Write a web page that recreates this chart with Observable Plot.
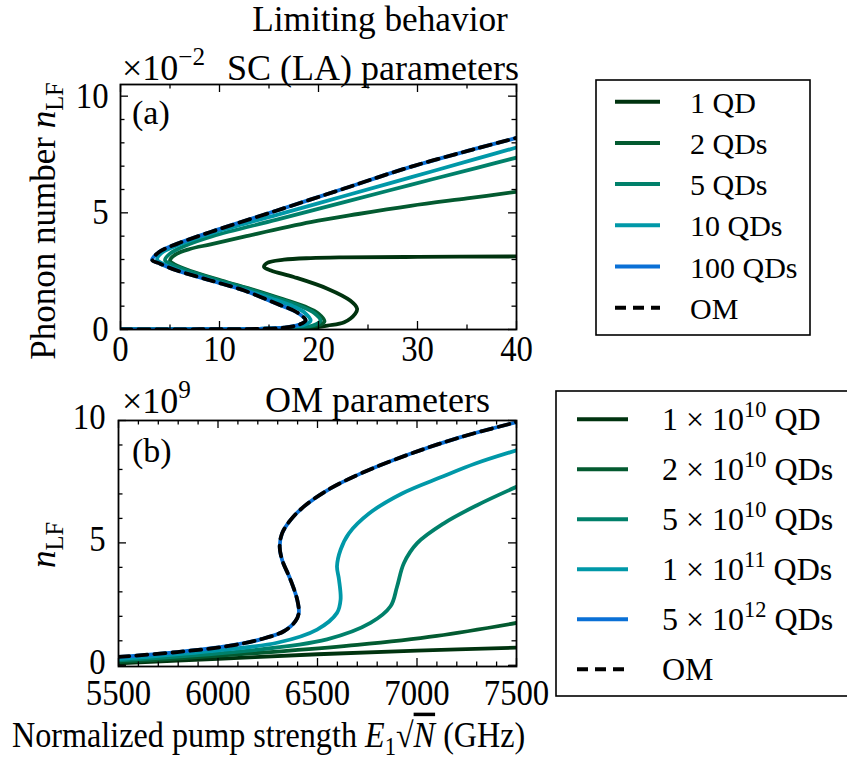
<!DOCTYPE html>
<html><head><meta charset="utf-8">
<script src="https://cdn.jsdelivr.net/npm/d3@7"></script>
<script src="https://cdn.jsdelivr.net/npm/@observablehq/plot@0.6"></script>
<style>
body{margin:0;background:#fff;}
#chart{position:relative;width:847px;height:768px;overflow:hidden;background:#fff;font-family:"Liberation Serif","Times New Roman",Times,"DejaVu Serif",serif;}
#chart > svg{position:absolute;}
#chart text{font-family:"Liberation Serif","Times New Roman",Times,"DejaVu Serif",serif;}
</style></head><body><div id="chart"></div>
<script>
// ---------- data ----------
const colors = ["#00330f", "#035a30", "#00806a", "#0098a8", "#0a70d6"];
const omColor = "#000000";

// Panel (a): SC (LA) parameters, x = pump strength, y = phonon number (x1e-2)
const legendA = ["1 QD", "2 QDs", "5 QDs", "10 QDs", "100 QDs", "OM"];
const a1_x = [0, 10, 16, 19, 20.9, 22.6, 23.7, 23.9, 23.2, 20.9, 17.5, 15.2, 14.5, 14.8, 16.5, 19.2, 22.5, 30, 40];
const a1_y = [0, 0.01, 0.03, 0.06, 0.17, 0.31, 0.67, 0.89, 1.24, 1.75, 2.25, 2.53, 2.68, 2.85, 2.99, 3.06, 3.09, 3.11, 3.13];
const a2_x = [0, 8, 14, 18, 20, 20.6, 20.0, 18.7, 16.4, 13.6, 10.2, 7.0, 5.5, 5.0, 5.5, 7.0, 9.1, 12.5, 19.2, 24, 29.3, 35, 40];
const a2_y = [0, 0.01, 0.03, 0.07, 0.18, 0.35, 0.68, 0.97, 1.3, 1.68, 2.1, 2.52, 2.78, 2.95, 3.2, 3.45, 3.65, 3.98, 4.6, 4.95, 5.3, 5.62, 5.9];
const a5_x = [0, 8, 14, 17.5, 19.5, 20.2, 19.6, 18.3, 16.0, 13.2, 9.8, 6.6, 5.1, 4.5, 5.0, 6.6, 9.3, 15.8, 22.6, 29.3, 36, 40];
const a5_y = [0, 0.01, 0.03, 0.07, 0.18, 0.38, 0.7, 0.98, 1.32, 1.7, 2.12, 2.55, 2.8, 2.97, 3.25, 3.6, 4.0, 4.71, 5.46, 6.2, 6.93, 7.37];
const a10_x = [0, 8, 14, 17, 18.6, 19.2, 18.6, 17.5, 15.3, 12.7, 9.3, 6.0, 4.4, 3.7, 4.2, 6.0, 9.3, 15.8, 22.6, 29.3, 36, 40];
const a10_y = [0, 0.01, 0.03, 0.08, 0.2, 0.38, 0.72, 0.98, 1.32, 1.68, 2.1, 2.52, 2.8, 3.0, 3.3, 3.65, 4.14, 4.91, 5.72, 6.52, 7.32, 7.8];
const a100_x = [0, 8, 14, 16.5, 18, 18.7, 17.8, 15.8, 12.5, 9.1, 5.7, 4.0, 3.2, 3.9, 5.7, 9.1, 15.8, 22.6, 29.3, 36, 40];
const a100_y = [0, 0.01, 0.03, 0.08, 0.2, 0.39, 0.74, 1.1, 1.67, 2.1, 2.53, 2.82, 2.98, 3.32, 3.67, 4.18, 5.1, 6.04, 6.97, 7.76, 8.21];
const aOM_x = a100_x;
const aOM_y = a100_y;

// Panel (b): OM parameters, y in units of 1e9
const legendB_mant = ["1", "2", "5", "1", "5"];
const legendB_exp = ["10", "10", "10", "11", "12"];
const legendB_unit = ["QD", "QDs", "QDs", "QDs", "QDs"];
const b1_x = [5500, 6000, 6500, 7000, 7500];
const b1_y = [0.08, 0.26, 0.45, 0.6, 0.72];
const b2_x = [5500, 5900, 6300, 6700, 7100, 7500];
const b2_y = [0.13, 0.33, 0.56, 0.83, 1.2, 1.73];
const b5_x = [5500, 6130, 6548, 6766, 6867, 6900, 6934, 7001, 7135, 7302, 7500];
const b5_y = [0.2, 0.58, 1.06, 1.73, 2.41, 3.22, 4.17, 4.99, 5.8, 6.54, 7.29];
const b10_x = [5500, 5962, 6297, 6498, 6598, 6616, 6608, 6598, 6616, 6658, 6759, 6925, 7126, 7294, 7500];
const b10_y = [0.25, 0.58, 0.92, 1.46, 2.14, 2.68, 3.5, 4.04, 4.72, 5.39, 6.2, 7.02, 7.7, 8.24, 8.78];
const b500_x = [5500, 5795, 6046, 6214, 6331, 6389, 6406, 6398, 6364, 6322, 6310, 6322, 6364, 6431, 6549, 6716, 6967, 7219, 7500];
const b500_y = [0.34, 0.54, 0.78, 1.06, 1.39, 1.8, 2.14, 2.68, 3.5, 4.31, 4.85, 5.39, 5.93, 6.48, 7.15, 7.83, 8.64, 9.32, 9.93];
const bOM_x = b500_x;
const bOM_y = b500_y;

// axes ticks
const aXMajor = [0, 10, 20, 30, 40];
const aXMinor = [5, 15, 25, 35];
const aYMajor = [0, 5, 10];
const aYMinor = [1, 2, 3, 4, 6, 7, 8, 9];
const bXMajor = [5500, 6000, 6500, 7000, 7500];
const bXMinor = [5600, 5700, 5800, 5900, 6100, 6200, 6300, 6400, 6600, 6700, 6800, 6900, 7100, 7200, 7300, 7400];
const bYMajor = [0, 5, 10];
const bYMinor = [1, 2, 3, 4, 6, 7, 8, 9];

// ---------- helpers ----------
const rows = (xs, ys) => xs.map((x, i) => ({x, y: ys[i]}));
const FONT = '"Liberation Serif", "Times New Roman", Times, "DejaVu Serif", serif';

function panel(o) {
  const ih = o.height - o.mt - o.mb, iw = o.width - o.ml - o.mr;
  const lines = o.curves.map((c, i) => Plot.line(rows(c[0], c[1]), {
    x: "x", y: "y", stroke: colors[i], strokeWidth: 3.8, curve: "catmull-rom", clip: true
  }));
  lines.push(Plot.line(rows(o.om[0], o.om[1]), {
    x: "x", y: "y", stroke: omColor, strokeWidth: 3.8, strokeDasharray: "11,7", curve: "catmull-rom", clip: true
  }));
  const tk = {stroke: "black", strokeWidth: 1.3};
  const svg = Plot.plot({
    width: o.width, height: o.height,
    marginLeft: o.ml, marginRight: o.mr, marginTop: o.mt, marginBottom: o.mb,
    x: {domain: o.xDomain, label: null},
    y: {domain: o.yDomain, label: null},
    style: {fontFamily: FONT, fontSize: "36px", color: "black", background: "transparent", overflow: "visible"},
    marks: [
      ...lines,
      Plot.tickX(o.xMajor, {x: d => d, insetTop: ih - 8, ...tk}),
      Plot.tickX(o.xMajor, {x: d => d, insetBottom: ih - 8, ...tk}),
      Plot.tickX(o.xMinor, {x: d => d, insetTop: ih - 4.5, ...tk}),
      Plot.tickX(o.xMinor, {x: d => d, insetBottom: ih - 4.5, ...tk}),
      Plot.tickY(o.yMajor, {y: d => d, insetRight: iw - 8, ...tk}),
      Plot.tickY(o.yMajor, {y: d => d, insetLeft: iw - 8, ...tk}),
      Plot.tickY(o.yMinor, {y: d => d, insetRight: iw - 4.5, ...tk}),
      Plot.tickY(o.yMinor, {y: d => d, insetLeft: iw - 4.5, ...tk}),
      Plot.frame({stroke: "black", strokeWidth: 1.8}),
      Plot.axisX({ticks: o.xMajor, tickSize: 0, tickPadding: o.xPad, tickFormat: d => String(d), label: null, fontSize: 36}),
      Plot.axisY({ticks: o.yMajor, tickSize: 0, tickPadding: o.yPad, dy: o.yDy || 0, tickFormat: d => String(d), label: null, fontSize: 36})
    ]
  });
  svg.style.left = o.left + "px";
  svg.style.top = o.top + "px";
  d3.select(svg).selectAll("g[aria-label$='tick label'] text").each(function () {
    const t = this.getAttribute("transform") || "";
    this.setAttribute("transform", t + " scale(0.91,1)");
  });
  return svg;
}

const chart = document.getElementById("chart");

chart.appendChild(panel({
  left: 0, top: 60, width: 540, height: 309, ml: 120, mr: 24, mt: 24, mb: 40,
  xDomain: [0, 40], yDomain: [0, 10.5],
  xMajor: aXMajor, xMinor: aXMinor, yMajor: aYMajor, yMinor: aYMinor,
  curves: [[a1_x, a1_y], [a2_x, a2_y], [a5_x, a5_y], [a10_x, a10_y], [a100_x, a100_y]],
  om: [aOM_x, aOM_y], xPad: 6, yPad: 12
}));

chart.appendChild(panel({
  left: 0, top: 396, width: 540, height: 310, ml: 118, mr: 24, mt: 24, mb: 40,
  xDomain: [5500, 7500], yDomain: [-0.05, 10],
  xMajor: bXMajor, xMinor: bXMinor, yMajor: bYMajor, yMinor: bYMinor,
  curves: [[b1_x, b1_y], [b2_x, b2_y], [b5_x, b5_y], [b10_x, b10_y], [b500_x, b500_y]],
  om: [bOM_x, bOM_y], xPad: 13, yPad: 13, yDy: -3
}));

// ---------- overlay: titles, labels, legends ----------
const ov = d3.select(chart).append("svg")
  .attr("width", 847).attr("height", 768)
  .style("left", "0px").style("top", "0px").style("pointer-events", "none")
  .style("font-family", FONT);

function txt(x, y, parts, o = {}) {
  const size = o.size || 34;
  const t = ov.append("text").attr("x", 0).attr("y", 0)
    .attr("font-size", size).style("font-family", FONT)
    .attr("text-anchor", o.anchor || "start").attr("fill", "black");
  const sx = o.sx || 1;
  t.attr("transform", `translate(${x},${y})` + (o.rotate ? ` rotate(${o.rotate})` : "") + (sx !== 1 ? ` scale(${sx},1)` : ""));
  let shift = 0;
  for (const p of parts) {
    const [s, kind] = Array.isArray(p) ? p : [p, null];
    const ts = t.append("tspan").text(s);
    let target = 0, fs = size;
    if (kind === "sup") { target = -0.42 * size; fs = 0.7 * size; }
    if (kind === "sub") { target = 0.22 * size; fs = 0.7 * size; }
    if (kind === "it") ts.attr("font-style", "italic");
    if (kind === "over") ts.attr("font-style", "italic").style("text-decoration", "overline");
    ts.attr("font-size", fs).attr("dy", target - shift);
    shift = target;
  }
  return t;
}

txt(380, 31, ["Limiting behavior"], {size: 36, anchor: "middle", sx: 0.98});
txt(122, 80, ["×10", ["−2", "sup"]], {size: 36});
txt(227, 80, ["SC (LA) parameters"], {size: 36});
txt(122, 413, ["×10", ["9", "sup"]], {size: 36});
txt(265, 412, ["OM parameters"], {size: 36});
txt(132, 124, ["(a)"], {size: 34});
txt(132, 462, ["(b)"], {size: 34});
txt(55, 221, ["Phonon number ", ["n", "it"], ["LF", "sub"]], {size: 35, anchor: "middle", rotate: -90});
txt(55, 545, [["n", "it"], ["LF", "sub"]], {size: 35, anchor: "middle", rotate: -90});
txt(12, 747, ["Normalized pump strength ", ["E", "it"], ["1", "sub"], "√", ["N", "over"], " (GHz)"], {size: 35, sx: 0.92});

// legend (a)
ov.append("rect").attr("x", 596).attr("y", 80).attr("width", 214).attr("height", 255)
  .attr("fill", "white").attr("stroke", "black").attr("stroke-width", 1.6);
const legA_y0 = 101.7, legA_dy = 41.2;
legendA.forEach((lab, i) => {
  const y = legA_y0 + i * legA_dy;
  ov.append("line").attr("x1", 615).attr("x2", 660).attr("y1", y).attr("y2", y)
    .attr("stroke", i < 5 ? colors[i] : omColor).attr("stroke-width", 4)
    .attr("stroke-dasharray", i < 5 ? null : "11,7");
  txt(690, y + 11, [lab], {size: 30});
});

// legend (b)
ov.append("rect").attr("x", 556).attr("y", 391).attr("width", 300).attr("height", 305)
  .attr("fill", "white").attr("stroke", "black").attr("stroke-width", 1.6);
const legB_y0 = 419.3, legB_dy = 50;
for (let i = 0; i < 6; i++) {
  const y = legB_y0 + i * legB_dy;
  ov.append("line").attr("x1", 577).attr("x2", 628).attr("y1", y).attr("y2", y)
    .attr("stroke", i < 5 ? colors[i] : omColor).attr("stroke-width", 4)
    .attr("stroke-dasharray", i < 5 ? null : "11,7");
  if (i < 5) txt(662, y + 11, [legendB_mant[i] + " × 10", [legendB_exp[i], "sup"], " " + legendB_unit[i]], {size: 32});
  else txt(662, y + 11, ["OM"], {size: 32});
}
</script></body></html>
